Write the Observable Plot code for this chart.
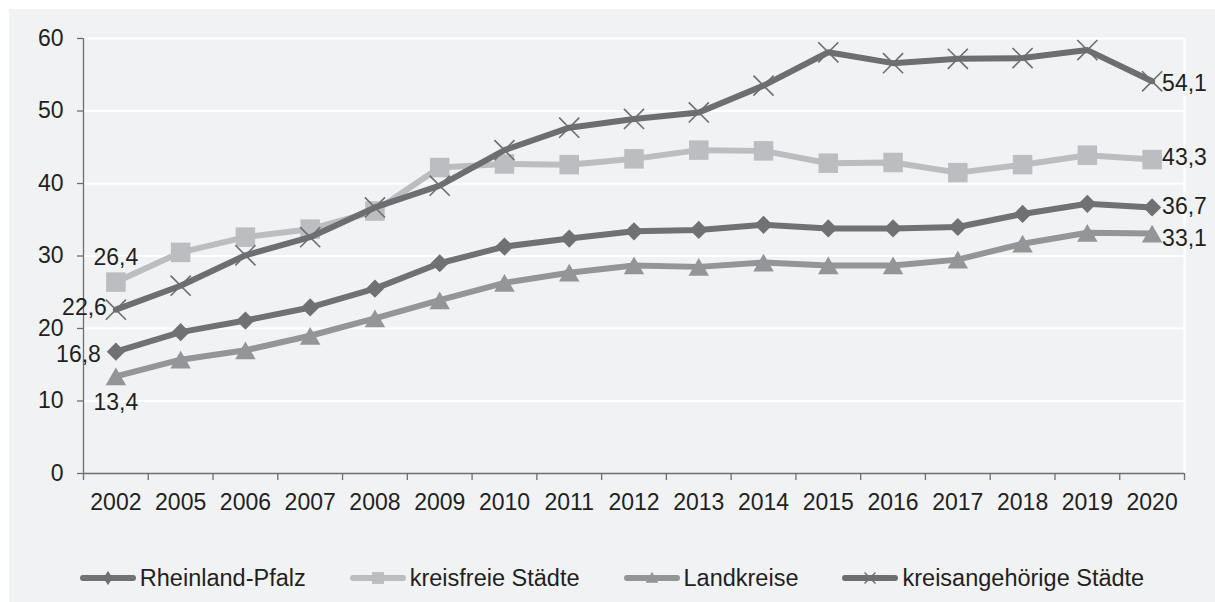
<!DOCTYPE html>
<html>
<head>
<meta charset="utf-8">
<script src="https://cdn.jsdelivr.net/npm/d3@7"></script>
<script src="https://cdn.jsdelivr.net/npm/@observablehq/plot@0.6"></script>
<style>
  html, body { margin: 0; padding: 0; background: #ffffff; width: 1215px; height: 602px; overflow: hidden; }
  #panel { position: absolute; left: 9px; top: 9px; width: 1206px; height: 593px; background: #f1f2f4; font-family: "Liberation Sans", Arial, sans-serif; color: #231f20; }
  #chart { position: absolute; left: 0; top: 0; }
  #legend { position: absolute; left: 0; top: 552px; width: 1206px; height: 34px; display: flex; justify-content: center; align-items: center; gap: 44px; font-size: 23.5px; }
  .item { display: flex; align-items: center; gap: 4px; }
  .item svg { display: block; }
</style>
</head>
<body>
<div id="panel">
  <div id="chart"></div>
  <div id="legend"></div>
</div>
<script>
// ---- data ----
const years = ["2002","2005","2006","2007","2008","2009","2010","2011","2012","2013","2014","2015","2016","2017","2018","2019","2020"];
const rheinlandPfalz = [16.8,19.5,21.1,22.9,25.5,29.0,31.3,32.4,33.4,33.6,34.3,33.8,33.8,34.0,35.8,37.2,36.7];
const kreisfreieStaedte = [26.4,30.5,32.6,33.7,36.2,42.2,42.7,42.6,43.4,44.6,44.5,42.8,42.9,41.5,42.6,43.9,43.3];
const landkreise = [13.4,15.7,17.0,19.0,21.4,23.9,26.3,27.7,28.7,28.5,29.1,28.7,28.7,29.5,31.7,33.2,33.1];
const kreisangehoerigeStaedte = [22.6,25.9,30.1,32.6,36.7,39.7,44.6,47.7,48.9,49.8,53.5,58.1,56.6,57.2,57.3,58.4,54.1];
const seriesNames = ["Rheinland-Pfalz","kreisfreie Städte","Landkreise","kreisangehörige Städte"];
const yTicks = [0,10,20,30,40,50,60];

// ---- styles ----
const axisColor = "#6d6e71";
const textColor = "#231f20";
const fs = 23;
const styles = [
  {values: rheinlandPfalz, color: "#707174", symbol: "diamond2", r: 8.2, dy: 0, filled: true,
   labels: [{i: 0, dx: -15, dy: 3, anchor: "end"}, {i: 16, dx: 10, dy: -1, anchor: "start"}]},
  {values: kreisfreieStaedte, color: "#bcbdc0", symbol: "square", r: 11, dy: 0, filled: true,
   labels: [{i: 0, dx: 0, dy: -24, anchor: "middle"}, {i: 16, dx: 10, dy: -2, anchor: "start"}]},
  {values: landkreise, color: "#939598", symbol: "triangle", r: 7.6, dy: 3, filled: true,
   labels: [{i: 0, dx: 0, dy: 26, anchor: "middle"}, {i: 16, dx: 10, dy: 5, anchor: "start"}]},
  {values: kreisangehoerigeStaedte, color: "#6d6e71", symbol: "times", r: 9.2, dy: 0, filled: false,
   labels: [{i: 0, dx: -9, dy: -2, anchor: "end"}, {i: 16, dx: 10, dy: 2, anchor: "start"}]}
];

const idx = years.map((_, i) => i);
const boundaries = d3.range(-0.5, years.length, 1);
const fmt = v => v.toFixed(1).replace(".", ",");

const marks = [
  Plot.gridY(yTicks.filter(v => v > 0), {stroke: "#ffffff", strokeOpacity: 1, strokeWidth: 2}),
  Plot.ruleX([years.length - 0.5], {y1: 0, y2: 60, stroke: "#ffffff", strokeWidth: 2}),
  Plot.ruleX([-0.5], {y1: 0, y2: 60, stroke: axisColor, strokeWidth: 1.3}),
  Plot.ruleY([0], {x1: -0.5, x2: years.length - 0.5, stroke: axisColor, strokeWidth: 1.3}),
  Plot.axisY({ticks: yTicks, tickSize: 6, tickPadding: 14, label: null, stroke: axisColor, fill: textColor, strokeWidth: 1.3, fontSize: fs}),
  Plot.axisX({ticks: boundaries, tickSize: 7, tickFormat: () => "", label: null, stroke: axisColor, strokeWidth: 1.3}),
  Plot.axisX({ticks: idx, tickSize: 0, tickPadding: 20, tickFormat: i => years[i], label: null, fill: textColor, fontSize: fs})
];

for (const s of styles) {
  const data = s.values.map((v, i) => ({i, v}));
  marks.push(Plot.line(data, {x: "i", y: "v", stroke: s.color, strokeWidth: 6, strokeLinejoin: "round"}));
  if (s.filled) {
    marks.push(Plot.dot(data, {x: "i", y: "v", symbol: s.symbol, r: s.r, fill: s.color, stroke: "none", dy: s.dy}));
  } else {
    marks.push(Plot.dot(data, {x: "i", y: "v", symbol: s.symbol, r: s.r, fill: "none", stroke: s.color, strokeWidth: 1.6}));
  }
}
for (const s of styles) {
  for (const l of s.labels) {
    marks.push(Plot.text([{i: l.i, v: s.values[l.i]}], {
      x: "i", y: "v", text: d => fmt(d.v), dx: l.dx, dy: l.dy, textAnchor: l.anchor, fill: textColor, fontSize: fs
    }));
  }
}

const chart = Plot.plot({
  width: 1206,
  height: 530,
  marginLeft: 74,
  marginRight: 31,
  marginTop: 29,
  marginBottom: 66,
  x: {type: "linear", domain: [-0.5, years.length - 0.5]},
  y: {domain: [0, 60]},
  style: {background: "transparent", fontFamily: "'Liberation Sans', Arial, sans-serif", fontSize: fs + "px", color: textColor, overflow: "visible"},
  marks
});
document.getElementById("chart").appendChild(chart);

// ---- legend ----
const legend = document.getElementById("legend");
styles.forEach((s, k) => {
  const item = document.createElement("div");
  item.className = "item";
  const ns = "http://www.w3.org/2000/svg";
  const svg = document.createElementNS(ns, "svg");
  svg.setAttribute("width", 56);
  svg.setAttribute("height", 20);
  const line = document.createElementNS(ns, "line");
  line.setAttribute("x1", 3); line.setAttribute("x2", 53);
  line.setAttribute("y1", 10); line.setAttribute("y2", 10);
  line.setAttribute("stroke", s.color); line.setAttribute("stroke-width", 6);
  line.setAttribute("stroke-linecap", "round");
  svg.appendChild(line);
  const symMap = {diamond2: d3.symbolDiamond2, square: d3.symbolSquare, triangle: d3.symbolTriangle, times: d3.symbolTimes};
  const sizeMap = {diamond2: 80, square: 140, triangle: 70, times: 80};
  const p = document.createElementNS(ns, "path");
  p.setAttribute("d", d3.symbol(symMap[s.symbol], sizeMap[s.symbol])());
  p.setAttribute("transform", s.symbol === "diamond2" ? "translate(28,10) scale(0.8,1.3)" : `translate(28,${s.symbol === "triangle" ? 11 : 10})`);
  if (s.filled) { p.setAttribute("fill", s.color); }
  else { p.setAttribute("fill", "none"); p.setAttribute("stroke", s.color); p.setAttribute("stroke-width", 1.4); }
  svg.appendChild(p);
  item.appendChild(svg);
  const t = document.createElement("span");
  t.textContent = seriesNames[k];
  item.appendChild(t);
  legend.appendChild(item);
});
</script>
</body>
</html>
